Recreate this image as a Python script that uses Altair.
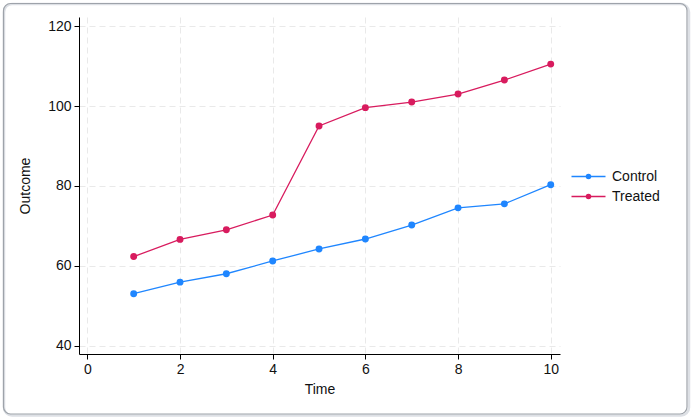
import altair as alt
import pandas as pd

time = list(range(1, 11))
control = [53.0, 55.9, 58.0, 61.2, 64.2, 66.7, 70.2, 74.5, 75.5, 80.3]
treated = [62.3, 66.6, 69.0, 72.7, 95.0, 99.6, 101.0, 103.0, 106.5, 110.5]
groups = ["Control", "Treated"]
colors = ["#1f86ff", "#d81b5e"]
x_ticks = [0, 2, 4, 6, 8, 10]
y_ticks = [40, 60, 80, 100, 120]

df = pd.DataFrame({
    "Time": time * 2,
    "Outcome": control + treated,
    "Group": [groups[0]] * len(control) + [groups[1]] * len(treated),
})

FONT = "Arial, Liberation Sans, Helvetica, sans-serif"
W, H = 481, 337
L, T = 79, 17

legend_path = "M-2,0H2M-0.24,0a0.24,0.24 0 1,0 0.48,0a0.24,0.24 0 1,0 -0.48,0"

color = alt.Color(
    "Group:N",
    scale=alt.Scale(domain=groups, range=colors),
    legend=alt.Legend(
        title=None,
        orient="none",
        legendX=500,
        legendY=150,
        symbolType=legend_path,
        symbolSize=289,
        symbolStrokeWidth=1.5,
        labelFontSize=14,
        labelFont=FONT,
        labelColor="#111111",
        labelOffset=14,
        rowPadding=3,
    ),
)

x = alt.X(
    "Time:Q",
    scale=alt.Scale(domain=[-0.18, 10.2], nice=False, zero=False),
    axis=alt.Axis(values=x_ticks, title="Time"),
)
y = alt.Y(
    "Outcome:Q",
    scale=alt.Scale(domain=[37.9, 122.3], nice=False, zero=False),
    axis=alt.Axis(values=y_ticks, title="Outcome"),
)

lines = alt.Chart(df).mark_line(strokeWidth=1.3).encode(x=x, y=y, color=color)
points = alt.Chart(df).mark_point(filled=True, size=48, opacity=1).encode(
    x=x, y=y, color=alt.Color("Group:N", scale=alt.Scale(domain=groups, range=colors), legend=None)
)

frame_data = alt.Data(values=[{"k": 1}])
shadow = alt.Chart(frame_data).mark_rect(
    cornerRadius=8, fill="transparent", stroke="#dde0e5", strokeWidth=2.5
).encode(
    x=alt.value(3 - L + 1), x2=alt.value(688 - L + 1),
    y=alt.value(3 - T + 1), y2=alt.value(414 - T + 1.5),
)
frame = alt.Chart(frame_data).mark_rect(
    cornerRadius=7, fill="transparent", stroke="#9ea3aa", strokeWidth=1.2
).encode(
    x=alt.value(3.5 - L), x2=alt.value(687 - L),
    y=alt.value(3.5 - T), y2=alt.value(414 - T),
)

chart = alt.layer(shadow, frame, lines, points).properties(
    width=W,
    height=H,
    autosize=alt.AutoSizeParams(type="none"),
    padding={"left": L, "top": T, "right": 692 - L - W, "bottom": 419 - T - H},
    background="#ffffff",
).configure_view(
    stroke=None
).configure_axis(
    domainColor="#000000",
    domainWidth=1,
    tickColor="#000000",
    tickSize=5,
    labelFont=FONT,
    labelFontSize=14,
    labelColor="#111111",
    labelPadding=3,
    titleFont=FONT,
    titleFontSize=14,
    titleFontWeight="normal",
    titleColor="#111111",
    gridColor="#e9e9e9",
    gridDash=[6, 4],
    gridWidth=1,
).configure_axisX(
    titlePadding=6,
).configure_axisY(
    titlePadding=15,
)

chart.save("out.html", embed_options={"renderer": "svg", "actions": False})
